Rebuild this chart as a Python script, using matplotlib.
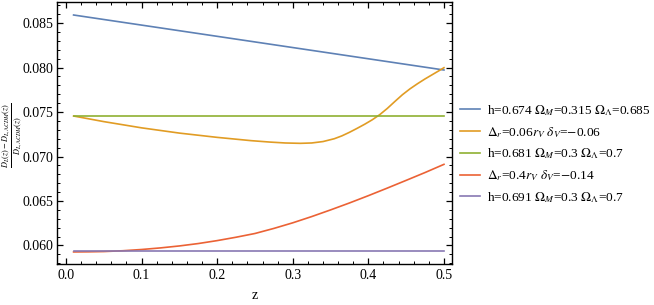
import matplotlib.pyplot as plt
import numpy as np
from matplotlib.ticker import MultipleLocator

plt.rcParams['font.family'] = ['Liberation Serif', 'DejaVu Serif']
plt.rcParams['mathtext.fontset'] = 'stix'

# values
z_lin = [0.01, 0.5]
blue = [0.0859, 0.07972]
green = [0.07458, 0.07458]
purple = [0.05942, 0.05942]

z_orange = [0.01, 0.05, 0.10, 0.15, 0.20, 0.245, 0.27, 0.29, 0.31, 0.325, 0.34,
            0.355, 0.365, 0.375, 0.385, 0.395, 0.405, 0.415, 0.425, 0.435, 0.445,
            0.455, 0.465, 0.475, 0.485, 0.495, 0.50]
orange = [0.07455, 0.07392, 0.07322, 0.07263, 0.07215, 0.07178, 0.07162, 0.07152,
          0.07148, 0.07152, 0.07168, 0.07200, 0.07232, 0.07272, 0.07316, 0.07362,
          0.07412, 0.07470, 0.07540, 0.07618, 0.07694, 0.07760, 0.07818, 0.07872,
          0.07922, 0.07972, 0.07998]

z_red = [0.01, 0.03, 0.05, 0.075, 0.10, 0.125, 0.15, 0.175, 0.20, 0.225, 0.25,
         0.275, 0.30, 0.325, 0.35, 0.375, 0.40, 0.425, 0.45, 0.475, 0.50]
red = [0.059275, 0.05929, 0.05932, 0.05941, 0.05955, 0.05973, 0.05995, 0.06022,
       0.06055, 0.06093, 0.06135, 0.06192, 0.06255, 0.06325, 0.06400, 0.06478,
       0.06560, 0.06645, 0.06732, 0.06820, 0.06912]

labels = [r'h=0.674 $\Omega_M$=0.315 $\Omega_\Lambda$=0.685',
          r'$\Delta_r$=0.06$r_V$ $\delta_V$=$-$0.06',
          r'h=0.681 $\Omega_M$=0.3 $\Omega_\Lambda$=0.7',
          r'$\Delta_r$=0.4$r_V$ $\delta_V$=$-$0.14',
          r'h=0.691 $\Omega_M$=0.3 $\Omega_\Lambda$=0.7']
colors = ['#5E81B5', '#E19C24', '#8FB032', '#EB6235', '#8778B3']

fig = plt.figure(figsize=(6.54, 3.05), dpi=100)
ax = fig.add_axes([0.0872, 0.1344, 0.6039, 0.859])

ax.plot(z_lin, blue, color=colors[0], lw=1.2, label=labels[0])
ax.plot(z_orange, orange, color=colors[1], lw=1.2, label=labels[1])
ax.plot(z_lin, green, color=colors[2], lw=1.2, label=labels[2])
ax.plot(z_red, red, color=colors[3], lw=1.2, label=labels[3])
ax.plot(z_lin, purple, color=colors[4], lw=1.2, label=labels[4])

ax.set_xlim(-0.0119, 0.5106)
ax.set_ylim(0.05792, 0.08736)
ax.xaxis.set_major_locator(MultipleLocator(0.1))
ax.xaxis.set_minor_locator(MultipleLocator(0.02))
ax.yaxis.set_major_locator(MultipleLocator(0.005))
ax.yaxis.set_minor_locator(MultipleLocator(0.001))
ax.xaxis.set_major_formatter(lambda v, p: f'{v:.1f}')
ax.yaxis.set_major_formatter(lambda v, p: f'{v:.3f}')
ax.tick_params(which='both', direction='in', top=True, right=True, labelsize=10)
ax.tick_params(axis='y', pad=2.5)
ax.tick_params(which='major', length=4, width=0.9)
ax.tick_params(which='minor', length=2, width=0.7)
for s in ax.spines.values():
    s.set_linewidth(1.0)

ax.set_xlabel('z', fontsize=10, labelpad=5)
fig.text(0.019, 0.555, r'$\frac{D_L(z)-D_{L,\Lambda CDM}(z)}{D_{L,\Lambda CDM}(z)}$',
         rotation=90, fontsize=8.5, ha='center', va='center')

ax.legend(loc='center left', bbox_to_anchor=(1.02, 0.42), frameon=False, fontsize=9.6,
          handlelength=1.5, handletextpad=0.5, labelspacing=0.52, borderpad=0,
          borderaxespad=0)

fig.savefig('out.png', dpi=100)
